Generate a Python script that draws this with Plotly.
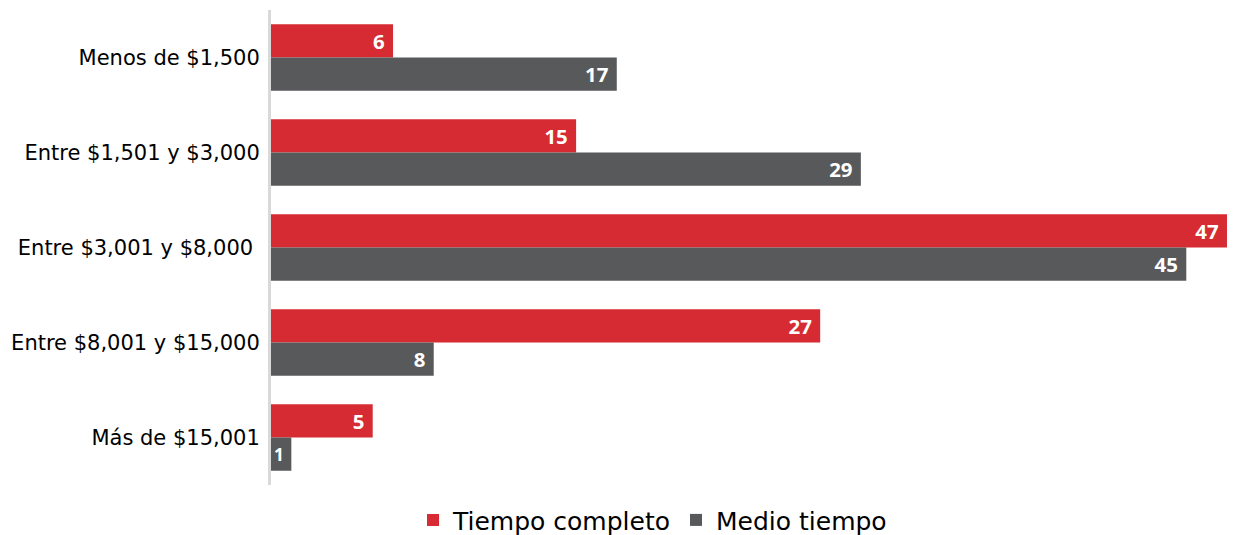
import plotly.graph_objects as go

categories = ["Menos de $1,500", "Entre $1,501 y $3,000", "Entre $3,001 y $8,000 ",
              "Entre $8,001 y $15,000", "Más de $15,001"]
tiempo_completo = [6, 15, 47, 27, 5]
medio_tiempo = [17, 29, 45, 8, 1]

red = "#D62B32"
gray = "#58595B"

label_font = dict(family="Open Sans", size=21, color="white", weight="bold")

fig = go.Figure()
fig.add_trace(go.Bar(
    y=categories, x=tiempo_completo, orientation="h", name="Tiempo completo",
    marker=dict(color=red, line=dict(width=0)),
    texttemplate="%{x}\u00a0", textposition="inside", insidetextanchor="end",
    textfont=label_font, textangle=0,
))
fig.add_trace(go.Bar(
    y=categories, x=medio_tiempo, orientation="h", name="Medio tiempo",
    marker=dict(color=gray, line=dict(width=0)),
    texttemplate="%{x}\u00a0", textposition="inside", insidetextanchor="end",
    textfont=label_font, textangle=0,
))

# page body has an 8px default margin, so the figure is sized to fit the window
fig.update_layout(
    width=1230, height=527,
    barmode="group", bargap=0.3, bargroupgap=0,
    plot_bgcolor="white", paper_bgcolor="white",
    margin=dict(l=263, r=10, t=2, b=50, autoexpand=False),
    xaxis=dict(range=[0, 47.05], visible=False, fixedrange=True, automargin=False),
    yaxis=dict(autorange="reversed", showgrid=False, ticks="", ticklabelstandoff=4,
               automargin=False,
               showline=True, linecolor="#D9D9D9", linewidth=3,
               tickfont=dict(family="DejaVu Sans", size=21, color="#000000")),
    legend=dict(orientation="h", xref="container", yref="paper",
                x=0.524, xanchor="center", y=-0.074, yanchor="middle",
                font=dict(family="DejaVu Sans", size=25, color="#000000"),
                itemsizing="constant", tracegroupgap=0),
    showlegend=True,
)

fig.write_html("out.html")
